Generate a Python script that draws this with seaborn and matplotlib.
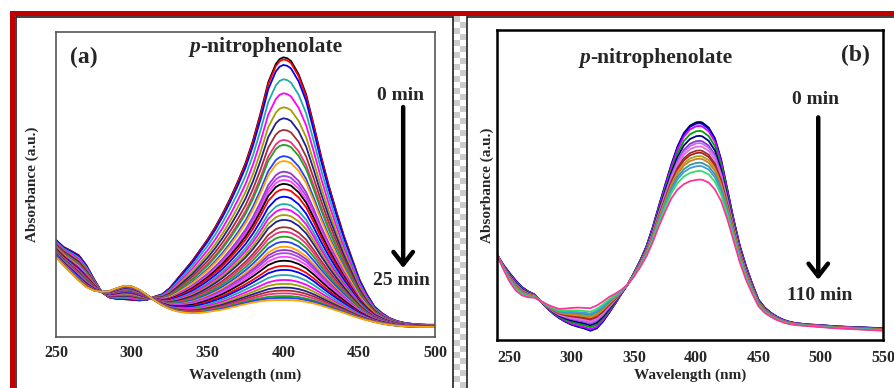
import numpy as np
import pandas as pd
import matplotlib
matplotlib.use("Agg")
import matplotlib.pyplot as plt
from matplotlib.patches import Rectangle
from matplotlib.lines import Line2D
from matplotlib.ticker import MultipleLocator, FixedLocator
import seaborn as sns

# ---------------- DATA ----------------
# Panel (a): 0 min -> 25 min
wl_a = [250, 255, 260, 265, 270, 275, 280, 285, 290, 295,
        300, 305, 310, 315, 320, 325, 330, 335, 340, 345,
        350, 355, 360, 365, 370, 375, 380, 385, 390, 395,
        397.5, 400, 402.5, 405, 410, 415, 420, 425, 430, 435,
        440, 445, 450, 455, 460, 465, 470, 475, 480, 485,
        490, 495, 500]
abs_a_first = [3.18, 2.95, 2.82, 2.68, 2.35, 1.90, 1.48, 1.30, 1.25, 1.24,
               1.22, 1.20, 1.22, 1.32, 1.40, 1.60, 1.90, 2.20, 2.50, 2.85,
               3.20, 3.60, 4.05, 4.55, 5.10, 5.70, 6.45, 7.35, 8.35, 8.95,
               9.11, 9.17, 9.14, 9.05, 8.62, 7.95, 6.95, 5.90, 4.95, 4.10,
               3.30, 2.60, 1.90, 1.40, 1.00, 0.78, 0.62, 0.52, 0.46, 0.43,
               0.41, 0.40, 0.40]
abs_a_last = [2.62, 2.35, 2.10, 1.85, 1.64, 1.52, 1.48, 1.50, 1.60, 1.68,
              1.66, 1.55, 1.38, 1.20, 1.04, 0.92, 0.84, 0.80, 0.78, 0.79,
              0.82, 0.86, 0.90, 0.96, 1.02, 1.08, 1.13, 1.17, 1.20, 1.21,
              1.21, 1.21, 1.21, 1.21, 1.19, 1.15, 1.10, 1.03, 0.95, 0.87,
              0.79, 0.70, 0.62, 0.55, 0.49, 0.44, 0.40, 0.37, 0.35, 0.34,
              0.33, 0.33, 0.33]
peaks_a = [9.17, 9.10, 8.92, 8.45, 7.99, 7.53, 7.17, 6.79, 6.46, 6.30,
           5.93, 5.77, 5.42, 5.28, 5.15, 5.02, 4.84, 4.60, 4.36, 4.19,
           4.00, 3.84, 3.60, 3.45, 3.29, 3.12, 2.96, 2.85, 2.75, 2.63,
           2.50, 2.33, 2.20, 2.03, 1.87, 1.74, 1.62, 1.52, 1.43, 1.34,
           1.28, 1.21]
colors_a_cycle = ['#000000', '#FF0000', '#0000FF', '#22AAAA', '#FF00FF',
                  '#A0A000', '#202090', '#A03030', '#F0307F', '#22A022',
                  '#2244FF', '#FFA500', '#9933CC', '#AA44EE', '#FF44FF']

# Panel (b): 0 min -> 110 min
wl_b = [240, 245, 250, 255, 260, 265, 270, 275, 280, 285, 290, 295, 300,
        305, 310, 315, 320, 325, 330, 335, 340, 345, 350, 355, 360, 365,
        370, 375, 380, 385, 390, 395, 400, 403, 405, 410, 415, 420, 425,
        430, 435, 440, 445, 450, 455, 460, 465, 470, 475, 480, 490, 500,
        510, 520, 530, 540, 550]
abs_b_first = [3.18, 2.88, 2.63, 2.40, 2.20, 2.07, 1.98, 1.78, 1.57, 1.40,
               1.26, 1.15, 1.06, 1.00, 0.95, 0.88, 0.95, 1.15, 1.42, 1.70,
               2.00, 2.28, 2.63, 3.00, 3.43, 4.00, 4.65, 5.28, 5.90, 6.45,
               6.85, 7.08, 7.18, 7.19, 7.17, 7.02, 6.70, 6.05, 5.15, 4.25,
               3.45, 2.83, 2.30, 1.82, 1.58, 1.42, 1.30, 1.21, 1.15, 1.11,
               1.07, 1.05, 1.02, 1.00, 0.99, 0.97, 0.96]
abs_b_last = [3.18, 2.75, 2.37, 2.10, 1.95, 1.89, 1.88, 1.78, 1.68, 1.60,
              1.54, 1.55, 1.57, 1.58, 1.57, 1.56, 1.64, 1.76, 1.90, 2.00,
              2.12, 2.28, 2.52, 2.80, 3.13, 3.55, 4.04, 4.48, 4.88, 5.15,
              5.31, 5.40, 5.44, 5.45, 5.44, 5.36, 5.15, 4.80, 4.25, 3.60,
              2.95, 2.42, 2.00, 1.62, 1.42, 1.30, 1.20, 1.13, 1.08, 1.05,
              1.02, 0.99, 0.96, 0.94, 0.92, 0.90, 0.88]
peaks_b = [7.19, 7.15, 7.07, 6.92, 6.77, 6.62, 6.55, 6.45, 6.33, 6.26,
           6.16, 6.08, 5.96, 5.86, 5.71, 5.45]
colors_b = ['#000000', '#0000FF', '#DD00FF', '#00A000', '#000080', '#8040C0',
            '#CC66FF', '#E070E0', '#993333', '#B02020', '#B0A020', '#D08020',
            '#3399AA', '#4499DD', '#33DD66', '#FF3399']

xticks_a = [250, 300, 350, 400, 450, 500]
xticks_b = [250, 300, 350, 400, 450, 500, 550]


def build_frame(wl, first, last, peaks):
    first = np.asarray(first, float)
    last = np.asarray(last, float)
    p0, p1 = peaks[0], peaks[-1]
    rows = []
    for i, p in enumerate(peaks):
        f = (p - p1) / (p0 - p1)
        spec = last + f * (first - last)
        for w, a in zip(wl, spec):
            rows.append((i, w, a))
    return pd.DataFrame(rows, columns=["curve", "wavelength", "absorbance"])


df_a = build_frame(wl_a, abs_a_first, abs_a_last, peaks_a)
df_b = build_frame(wl_b, abs_b_first, abs_b_last, peaks_b)
pal_a = [colors_a_cycle[i % len(colors_a_cycle)] for i in range(len(peaks_a))]

# ---------------- STYLE ----------------
sns.set_style("white")
plt.rcParams['font.family'] = ['Liberation Serif', 'DejaVu Serif']
plt.rcParams['font.weight'] = 'bold'
plt.rcParams['lines.solid_joinstyle'] = 'round'

W, H = 894, 388
fig = plt.figure(figsize=(W / 100, H / 100), dpi=100)
fig.patch.set_facecolor('white')


def fx(x):
    return x / W


def fy(y):
    return 1 - y / H


# decorative frames
fig.add_artist(Rectangle((fx(10), fy(388)), fx(5), 377 / H, transform=fig.transFigure,
                         facecolor='#C00000', edgecolor='none', zorder=0))
fig.add_artist(Rectangle((fx(10), fy(16)), fx(884), 5 / H, transform=fig.transFigure,
                         facecolor='#C00000', edgecolor='none', zorder=0))
# checkerboard strip
sq = 6.5
for ci in range(2):
    for ri in range(int((388 - 16) / 6) + 1):
        col = '#CCCCCC' if (ci + ri) % 2 == 0 else '#FFFFFF'
        x0 = 453 + ci * sq
        y0 = 16 + ri * 6
        fig.add_artist(Rectangle((fx(x0), fy(y0 + 6)), sq / W, 6 / H, transform=fig.transFigure,
                                 facecolor=col, edgecolor='none', zorder=0))
for (x0, y0, x1, y1) in [(15.5, 17, 15.5, 388), (15.5, 17, 452.5, 17), (452.5, 17, 452.5, 388),
                         (466.5, 17, 466.5, 388), (466.5, 17, 894, 17)]:
    fig.add_artist(Line2D([fx(x0), fx(x1)], [fy(y0), fy(y1)], transform=fig.transFigure,
                          color='#202020', lw=1.2, zorder=1))

ax_a = fig.add_axes([56 / W, (388 - 337) / H, 379 / W, 305 / H])
ax_b = fig.add_axes([497 / W, (388 - 340) / H, 386 / W, 310 / H])

sns.lineplot(data=df_a, x="wavelength", y="absorbance", hue="curve", palette=pal_a,
             legend=False, ax=ax_a, linewidth=1.3, estimator=None, errorbar=None, sort=False)
sns.lineplot(data=df_b, x="wavelength", y="absorbance", hue="curve", palette=colors_b,
             legend=False, ax=ax_b, linewidth=1.3, estimator=None, errorbar=None, sort=False)

# axes (a)
ax_a.set_xlim(250, 500)
ax_a.set_ylim(0, 10)
ax_a.xaxis.set_major_locator(FixedLocator(xticks_a))
ax_a.xaxis.set_minor_locator(MultipleLocator(25))
ax_a.yaxis.set_major_locator(FixedLocator([2, 4, 6, 8]))
ax_a.yaxis.set_minor_locator(FixedLocator([1, 3, 5, 7, 9]))
ax_a.tick_params(axis='both', which='major', direction='in', length=6, width=1.2, color='#555555')
ax_a.tick_params(axis='both', which='minor', direction='in', length=3, width=1.2, color='#555555')
ax_a.tick_params(axis='x', labelsize=11.5, pad=6)
ax_a.tick_params(axis='y', labelleft=False)
for s in ax_a.spines.values():
    s.set_color('#555555')
    s.set_linewidth(1.2)
ax_a.set_xlabel("Wavelength (nm)", fontsize=11, fontweight='bold', labelpad=5)
ax_a.set_ylabel("Absorbance (a.u.)", fontsize=11, fontweight='bold', labelpad=9)

# axes (b)
ax_b.set_xlim(240, 550)
ax_b.set_ylim(0.6, 9.97)
ax_b.xaxis.set_major_locator(FixedLocator(xticks_b))
ax_b.xaxis.set_minor_locator(FixedLocator([275, 325, 375, 425, 475, 525]))
ax_b.yaxis.set_major_locator(FixedLocator([1, 2, 3, 4, 5, 6, 7, 8, 9]))
ax_b.tick_params(axis='both', which='major', direction='in', length=7, width=1.8, color='black')
ax_b.tick_params(axis='both', which='minor', direction='in', length=4, width=1.8, color='black')
ax_b.tick_params(axis='x', labelsize=11.5, pad=7)
ax_b.tick_params(axis='y', labelleft=False)
for s in ax_b.spines.values():
    s.set_color('black')
    s.set_linewidth(1.8)
ax_b.set_xlabel("Wavelength (nm)", fontsize=11, fontweight='bold', labelpad=2)
ax_b.set_ylabel("Absorbance (a.u.)", fontsize=11, fontweight='bold', labelpad=2)

for ax in (ax_a, ax_b):
    for lab in ax.get_xticklabels():
        lab.set_fontweight('bold')

# annotations (a)
ax_a.text(268.5, 9.15, "(a)", fontsize=17, fontweight='bold', ha='center', va='center')
ax_a.text(345, 9.35, "p", fontsize=15.5, fontweight='bold', style='italic', ha='right', va='baseline')
ax_a.text(345, 9.35, "-nitrophenolate", fontsize=15.5, fontweight='bold', ha='left', va='baseline')
ax_a.text(477, 7.93, "0 min", fontsize=14, fontweight='bold', ha='center', va='center')
ax_a.text(478, 1.84, "25 min", fontsize=14, fontweight='bold', ha='center', va='center')
ax_a.annotate("", xy=(479, 2.26), xytext=(479, 7.54),
              arrowprops=dict(arrowstyle='->,head_width=0.35,head_length=0.45', lw=3.2,
                              color='black', mutation_scale=20, shrinkA=0, shrinkB=0))

# annotations (b)
ax_b.text(527.8, 9.21, "(b)", fontsize=17, fontweight='bold', ha='center', va='center')
ax_b.text(314.8, 8.97, "p", fontsize=15.5, fontweight='bold', style='italic', ha='right', va='baseline')
ax_b.text(314.8, 8.97, "-nitrophenolate", fontsize=15.5, fontweight='bold', ha='left', va='baseline')
ax_b.text(495.6, 7.88, "0 min", fontsize=14, fontweight='bold', ha='center', va='center')
ax_b.text(498.8, 1.94, "110 min", fontsize=14, fontweight='bold', ha='center', va='center')
ax_b.annotate("", xy=(498, 2.42), xytext=(498, 7.33),
              arrowprops=dict(arrowstyle='->,head_width=0.35,head_length=0.45', lw=3.2,
                              color='black', mutation_scale=20, shrinkA=0, shrinkB=0))

fig.savefig("out.png", dpi=100)
